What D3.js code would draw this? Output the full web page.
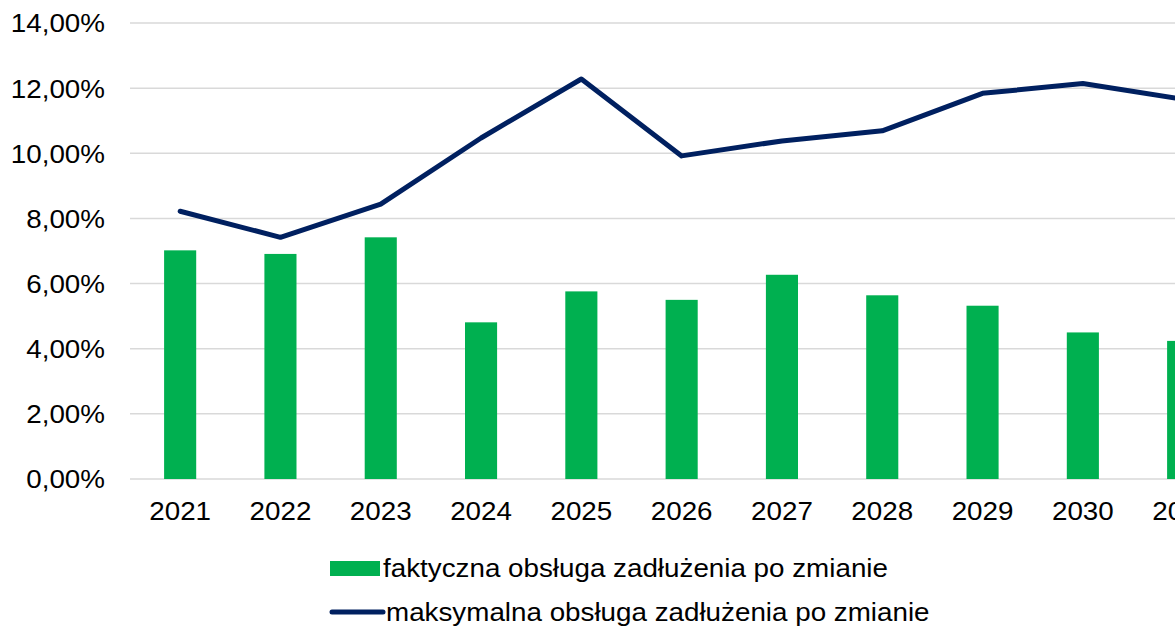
<!DOCTYPE html>
<html><head><meta charset="utf-8">
<script src="https://cdn.jsdelivr.net/npm/d3@7"></script>
<style>html,body{margin:0;padding:0;background:#fff;overflow:hidden}</style>
</head><body>
<svg id="c" width="1175" height="630"></svg>
<script>
const years = ["2021","2022","2023","2024","2025","2026","2027","2028","2029","2030","2031"];
const actual = [7.02, 6.91, 7.42, 4.81, 5.76, 5.50, 6.27, 5.64, 5.32, 4.50, 4.24];
const maximum = [8.22, 7.42, 8.44, 10.47, 12.28, 9.92, 10.38, 10.69, 11.84, 12.14, 11.66];
const yTicks = [0, 2, 4, 6, 8, 10, 12, 14];
const seriesNames = ["faktyczna obsługa zadłużenia po zmianie", "maksymalna obsługa zadłużenia po zmianie"];

const GREEN = "#00B050", NAVY = "#002060";
const svg = d3.select("#c");
const font = "'Liberation Sans', Arial, sans-serif";
const FS = 25.5, SX = 1.09;
const left = 130, step = 100.3;
const x = d3.scaleBand().domain(years).range([left, left + step * years.length]).paddingInner(0.68).paddingOuter(0.34);
const y = d3.scaleLinear().domain([0, 14]).range([479, 23]);

// gridlines
svg.append("g").selectAll("line").data(yTicks).join("line")
  .attr("x1", left).attr("x2", 1175)
  .attr("y1", d => y(d)).attr("y2", d => y(d))
  .attr("stroke", "#d9d9d9").attr("stroke-width", 1.5);

// y axis labels
const yAxis = d3.axisLeft(y).tickValues(yTicks).tickSize(0).tickPadding(0)
  .tickFormat(d => d.toFixed(2).replace(".", ",") + "%");
const gy = svg.append("g").attr("transform", "translate(105,0)").call(yAxis);
gy.select(".domain").remove();
gy.selectAll("text").attr("x", 0).attr("font-family", font).attr("font-size", FS).attr("fill", "#000")
  .attr("dy", "0.35em").attr("transform", `scale(${SX},1)`);

// bars
svg.append("g").selectAll("rect").data(years).join("rect")
  .attr("x", d => x(d)).attr("width", x.bandwidth())
  .attr("y", (d, i) => y(actual[i])).attr("height", (d, i) => y(0) - y(actual[i]))
  .attr("fill", GREEN);

// line
const line = d3.line().x((d, i) => x(years[i]) + x.bandwidth() / 2).y(d => y(d));
svg.append("path").datum(maximum).attr("d", line)
  .attr("fill", "none").attr("stroke", NAVY).attr("stroke-width", 5)
  .attr("stroke-linejoin", "round").attr("stroke-linecap", "round");

// x axis labels
const xAxis = d3.axisBottom(x).tickSize(0).tickPadding(0);
const gx = svg.append("g").attr("transform", "translate(0,502)").call(xAxis);
gx.select(".domain").remove();
gx.selectAll("text").attr("font-family", font).attr("font-size", FS).attr("fill", "#000")
  .attr("dy", "0.71em").attr("transform", `scale(${SX},1)`);

// legend
const lg = svg.append("g");
lg.append("rect").attr("x", 330).attr("y", 561).attr("width", 50).attr("height", 15).attr("fill", GREEN);
lg.append("g").attr("transform", `translate(383,568) scale(${SX},1)`)
  .append("text").attr("dy", "0.35em").text(seriesNames[0])
  .attr("font-family", font).attr("font-size", FS).attr("fill", "#000");
lg.append("line").attr("x1", 332).attr("x2", 383).attr("y1", 612).attr("y2", 612)
  .attr("stroke", NAVY).attr("stroke-width", 5).attr("stroke-linecap", "round");
lg.append("g").attr("transform", `translate(386,612) scale(${SX},1)`)
  .append("text").attr("dy", "0.35em").text(seriesNames[1])
  .attr("font-family", font).attr("font-size", FS).attr("fill", "#000");
</script>
</body></html>
